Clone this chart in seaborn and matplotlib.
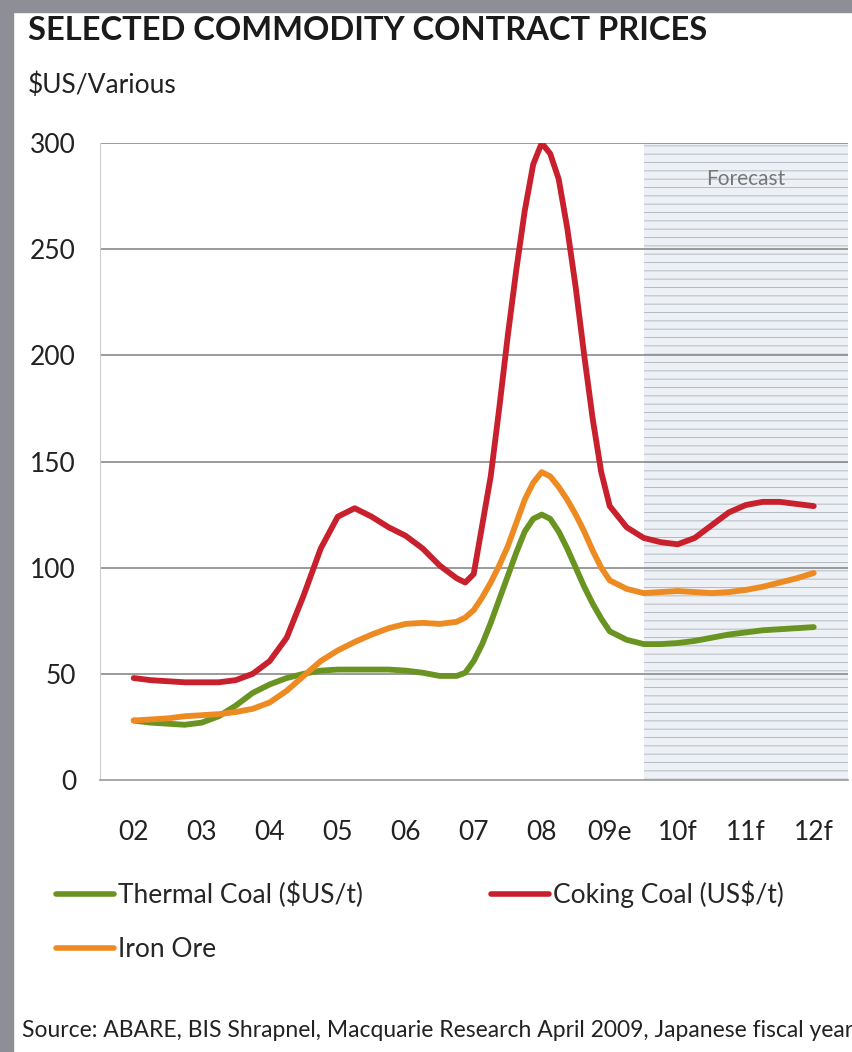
import pandas as pd
import seaborn as sns
import matplotlib.pyplot as plt
from matplotlib.patches import Rectangle

# x labels (Japanese fiscal years)
years = ['02', '03', '04', '05', '06', '07', '08', '09e', '10f', '11f', '12f']

# points, position in year-index units
pos = [0, 0.25, 0.5, 0.75, 1, 1.25, 1.5, 1.75, 2, 2.25, 2.5, 2.75, 3, 3.25, 3.5, 3.75,
       4, 4.25, 4.5, 4.75,
       4.875, 5, 5.125, 5.25, 5.375, 5.5, 5.625, 5.75, 5.875, 6, 6.125, 6.25, 6.375,
       6.5, 6.625, 6.75, 6.875,
       7, 7.25, 7.5, 7.75, 8, 8.25, 8.5, 8.75, 9, 9.25, 9.5, 9.75, 10]

thermal = [28, 27, 26.5, 26, 27, 30, 35, 41, 45, 48, 50, 51.5, 52, 52, 52, 52,
           51.5, 50.5, 49, 49,
           50.5, 56, 64, 74, 85, 96, 107, 117, 123, 125, 123, 117, 109,
           100, 91, 83, 76,
           70, 66, 64, 64, 64.5, 65.5, 67, 68.5, 69.5, 70.5, 71, 71.5, 72]
coking = [48, 47, 46.5, 46, 46, 46, 47, 50, 56, 67, 87, 109, 124, 128, 124, 119,
          115, 109, 101, 95,
          93, 97, 120, 143, 175, 209, 240, 268, 290, 300, 295, 283, 260,
          232, 200, 170, 145,
          129, 119, 114, 112, 111, 114, 120, 126, 129.5, 131, 131, 130, 129]
iron = [28, 28.5, 29, 30, 30.5, 31, 32, 33.5, 36.5, 42, 49, 56, 61, 65, 68.5, 71.5,
        73.5, 74, 73.5, 74.5,
        76.5, 80, 86, 93, 101, 110, 121, 132, 140, 145, 143, 138, 132,
        125, 117, 108, 100,
        94, 90, 88, 88.5, 89, 88.5, 88, 88.5, 89.5, 91, 93, 95, 97.5]

names = ['Thermal Coal ($US/t)', 'Coking Coal (US$/t)', 'Iron Ore']
colors = ['#6a9422', '#c8202c', '#ee8a22']

df = pd.concat([
    pd.DataFrame({'pos': pos, 'price': thermal, 'series': names[0]}),
    pd.DataFrame({'pos': pos, 'price': coking, 'series': names[1]}),
    pd.DataFrame({'pos': pos, 'price': iron, 'series': names[2]}),
])

sns.set_style('white')
plt.rcParams['font.family'] = ['Lato', 'DejaVu Sans']
plt.rcParams['hatch.linewidth'] = 0.7

fig = plt.figure(figsize=(8.52, 10.52), dpi=100)
ax = fig.add_axes([0.117, 0.2586, 0.878, 0.6054])

# forecast zone
ax.axvspan(7.5, 10.5, facecolor='#edf1f5', edgecolor='#b4bac2', hatch='--', lw=0, zorder=0)
ax.text(9.0, 283, 'Forecast', ha='center', va='center', fontsize=15, color='#777777')

for v in range(50, 301, 50):
    ax.axhline(v, color='#8a8a8a', lw=1.2, zorder=1)

sns.lineplot(data=df, x='pos', y='price', hue='series', hue_order=names,
             palette=colors, lw=4.2, sort=False, estimator=None, legend=False,
             ax=ax, zorder=3, solid_joinstyle='round', solid_capstyle='round')

ax.set_xlim(-0.5, 10.5)
ax.set_ylim(0, 300)
ax.set_xticks(range(len(years)))
ax.set_xticklabels(years)
ax.set_xticks([x + 0.5 for x in range(-1, 11)], minor=True)
ax.set_yticks(range(0, 301, 50))
ax.tick_params(axis='both', which='major', length=0, labelsize=19, colors='#222222', pad=29)
ax.tick_params(axis='y', pad=17)
ax.tick_params(axis='x', which='minor', length=4, color='#bbbbbb', direction='in')
ax.set_xlabel('')
ax.set_ylabel('')
for s in ['top', 'right']:
    ax.spines[s].set_visible(False)
ax.spines['left'].set_color('#cccccc')
ax.spines['bottom'].set_color('#999999')
ax.spines['bottom'].set_linewidth(1.2)

fig.text(0.033, 0.971, 'SELECTED COMMODITY CONTRACT PRICES', fontsize=23.5,
         fontweight='bold', color='#1a1a1a', va='center')
fig.text(0.033, 0.919, '$US/Various', fontsize=19, color='#222222', va='center')

handles = [plt.Line2D([], [], color=colors[0], lw=4),
           plt.Line2D([], [], color=colors[2], lw=4),
           plt.Line2D([], [], color=colors[1], lw=4)]
fig.legend(handles, [names[0], names[2], names[1]], ncol=2, loc='upper left',
           bbox_to_anchor=(0.066, 0.163), frameon=False, fontsize=19,
           handlelength=2.2, handletextpad=0.15, columnspacing=4.85,
           labelspacing=1.1, borderpad=0, borderaxespad=0)

fig.text(0.026, 0.02, 'Source: ABARE, BIS Shrapnel, Macquarie Research April 2009, Japanese fiscal year',
         fontsize=16.5, color='#222222', va='center')

# scanned page edges
fig.patches.append(Rectangle((0, 0), 0.015, 1, transform=fig.transFigure,
                             color='#8e8e96', zorder=-1))
fig.patches.append(Rectangle((0, 0.989), 1, 0.011, transform=fig.transFigure,
                             color='#8e8e96', zorder=-1))

fig.savefig('out.png', dpi=100, facecolor='white')
